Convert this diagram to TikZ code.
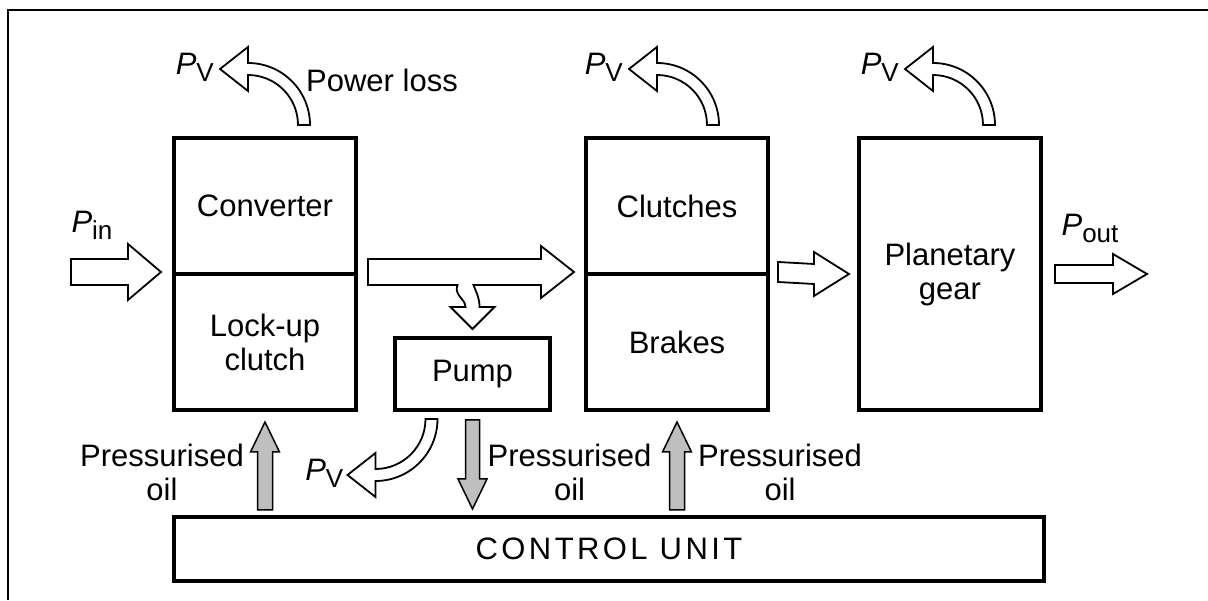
\documentclass[tikz,border=0pt]{standalone}
\usepackage{fontspec}
\setmainfont{Liberation Sans}

\begin{document}
\begin{tikzpicture}[x=1pt, y=1pt,
		box/.style={draw, line width=4pt, minimum width=182pt, align=center, inner sep=0pt},
		hollow/.style={draw, line width=1.8pt, fill=white, line join=miter},
		oil/.style={draw, line width=1.5pt, fill=black!25, line join=miter},
		lbl/.style={inner sep=1pt, align=center},
		font=\fontsize{31}{34}\selectfont]
		\useasboundingbox (0,0) rectangle (1208,600);
		\draw[line width=2pt] (8,0) -- (8,590) -- (1208,590);

		\node[box, minimum height=136pt] (conv) at (265,394) {Converter};
		\node[box, minimum height=136pt] (lock) at (265,258) {Lock-up\\clutch};
		\node[box, minimum height=136pt] (clu) at (677,394) {Clutches};
		\node[box, minimum height=136pt] (brk) at (677,258) {Brakes};
		\node[box, minimum height=272pt] (pla) at (950,326) {Planetary\\gear};
		\node[box, minimum width=155pt, minimum height=72pt] (pump) at (472.5,226) {Pump};
		\node[box, minimum width=870pt, minimum height=64pt] (ctrl) at (609,51) {\addfontfeature{LetterSpace=11}CONTROL UNIT};

		% power flow
		\coordinate (pin) at ([xshift=-11pt]lock.north west);
		\draw[hollow] (pin) -- ++(-33,28) -- ++(0,-15) -- ++(-57,0) -- ++(0,-26) -- ++(57,0) -- ++(0,-15) -- cycle;
		\node[lbl] (pinl) at ([xshift=-69pt,yshift=47pt]pin) {\textit{P}\raisebox{-7pt}{\fontsize{26}{26}\selectfont in}};

		\draw[hollow] ([xshift=10pt,yshift=13pt]lock.north east) -- ([xshift=-43pt,yshift=13pt]brk.north west) -- ++(0,13)
			-- ([xshift=-10pt]brk.north west) -- ++(-33,-26) -- ++(0,13)
			-- ([xshift=1pt,yshift=51pt]pump.north) .. controls +(4,-10) and +(0,8) .. ([xshift=7pt,yshift=29pt]pump.north)
			-- ++(15,0) -- ([yshift=7pt]pump.north) -- ([xshift=-22pt,yshift=29pt]pump.north) -- ++(15,0)
			.. controls +(0,8) and +(-4,-10) .. ([xshift=-15pt,yshift=51pt]pump.north)
			-- ([xshift=10pt,yshift=-13pt]lock.north east) -- cycle;

		\draw[hollow] ([xshift=8pt,yshift=10pt]brk.north east) -- ([xshift=-43pt,yshift=10pt]pla.west) -- ++(0,12)
			-- ([xshift=-8pt]pla.west) -- ++(-35,-22) -- ++(0,12) -- ([xshift=8pt,yshift=-10pt]brk.north east) -- cycle;

		\draw[hollow] ([xshift=12pt,yshift=9pt]pla.east) -- ++(58,0) -- ++(0,11) -- ++(34,-20) -- ++(-34,-20) -- ++(0,11) -- ++(-58,0) -- cycle;
		\node[lbl] (poutl) at ([xshift=47pt,yshift=46pt]pla.east) {\textit{P}\raisebox{-7pt}{\fontsize{26}{26}\selectfont out}};

		% power losses
		\begin{scope}[shift={([xshift=39pt,yshift=11pt]conv.north)}]
			\draw[hollow] (6,0) arc[start angle=0, end angle=90, radius=62pt] -- (-56,78) -- (-84,56) coordinate (lossA)
				-- (-56,34) -- (-56,50) arc[start angle=90, end angle=0, radius=50pt] -- cycle;
			\node[lbl, anchor=west, inner sep=0pt] (loss) at (2,45) {Power loss};
		\end{scope}
		\node[lbl, anchor=east] (pv1) at ([xshift=-5pt,yshift=2pt]lossA) {\textit{P}\raisebox{-7pt}{\fontsize{26}{26}\selectfont V}};

		\begin{scope}[shift={([xshift=36pt,yshift=11pt]clu.north)}]
			\draw[hollow] (6,0) arc[start angle=0, end angle=90, radius=62pt] -- (-56,78) -- (-84,56) coordinate (lossB)
				-- (-56,34) -- (-56,50) arc[start angle=90, end angle=0, radius=50pt] -- cycle;
		\end{scope}
		\node[lbl, anchor=east] (pv2) at ([xshift=-5pt,yshift=2pt]lossB) {\textit{P}\raisebox{-7pt}{\fontsize{26}{26}\selectfont V}};

		\begin{scope}[shift={([xshift=39pt,yshift=11pt]pla.north)}]
			\draw[hollow] (6,0) arc[start angle=0, end angle=90, radius=62pt] -- (-56,78) -- (-84,56) coordinate (lossC)
				-- (-56,34) -- (-56,50) arc[start angle=90, end angle=0, radius=50pt] -- cycle;
		\end{scope}
		\node[lbl, anchor=east] (pv3) at ([xshift=-5pt,yshift=2pt]lossC) {\textit{P}\raisebox{-7pt}{\fontsize{26}{26}\selectfont V}};

		\begin{scope}[shift={([xshift=-41pt,yshift=-7pt]pump.south)}]
			\draw[hollow] (6,0) arc[start angle=0, end angle=-90, radius=62pt] -- (-56,-78) -- (-84,-56) coordinate (lossP)
				-- (-56,-34) -- (-56,-50) arc[start angle=-90, end angle=0, radius=50pt] -- cycle;
		\end{scope}
		\node[lbl, anchor=east] (pv4) at ([xshift=-3pt,yshift=2pt]lossP) {\textit{P}\raisebox{-7pt}{\fontsize{26}{26}\selectfont V}};

		% pressurised oil
		\begin{scope}[shift={(lock.south)}]
			\draw[oil] (-7.5,-98) -- (-7.5,-40) -- (-14.5,-40) -- (0,-10) -- (14.5,-40) -- (7.5,-40) -- (7.5,-98) -- cycle;
		\end{scope}
		\begin{scope}[shift={(brk.south)}]
			\draw[oil] (-7.5,-98) -- (-7.5,-40) -- (-14.5,-40) -- (0,-10) -- (14.5,-40) -- (7.5,-40) -- (7.5,-98) -- cycle;
		\end{scope}
		\begin{scope}[shift={(pump.south)}]
			\draw[oil] (-7,-8) -- (-7,-67) -- (-14.5,-67) -- (0,-97) -- (14.5,-67) -- (7,-67) -- (7,-8) -- cycle;
		\end{scope}
		\node[lbl, anchor=east] (oil1) at ([xshift=-20pt,yshift=-60pt]lock.south) {Pressurised\\oil};
		\node[lbl, anchor=west] (oil2) at ([xshift=14pt,yshift=-60pt]pump.south) {Pressurised\\oil};
		\node[lbl, anchor=west] (oil3) at ([xshift=20pt,yshift=-60pt]brk.south) {Pressurised\\oil};

	\end{tikzpicture}
\end{document}
